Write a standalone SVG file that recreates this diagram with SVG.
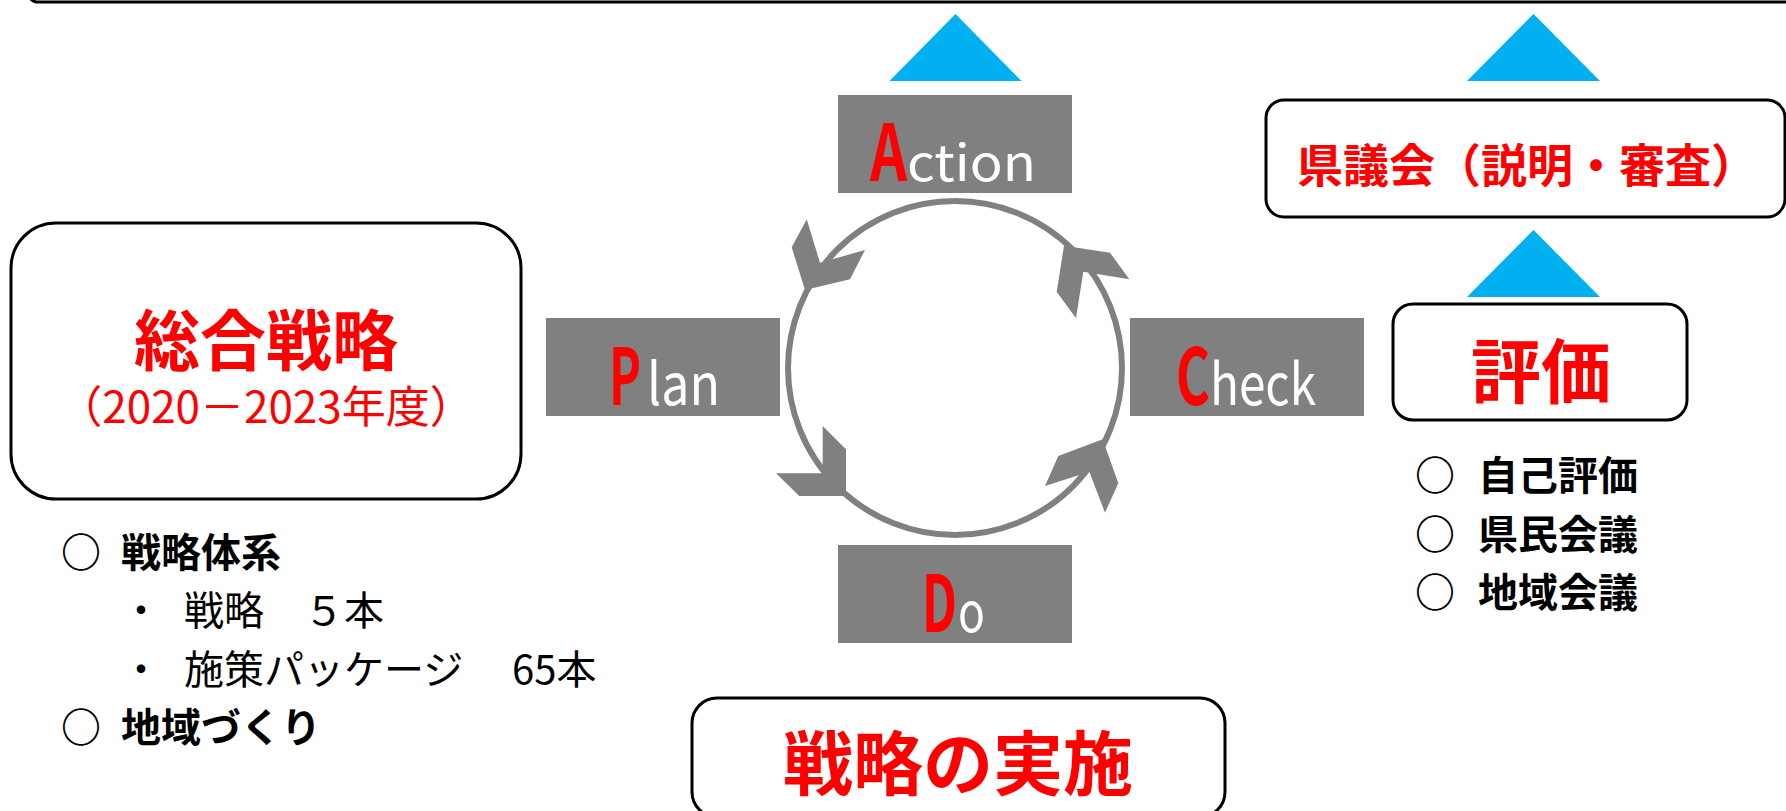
<svg xmlns="http://www.w3.org/2000/svg" width="1786" height="811" viewBox="0 0 1786 811">
<style>
  .frame{fill:#fff;stroke:#000;stroke-width:3}
  .gbox{fill:#808080}
  .tri{fill:#00B0F0}
  .ah{fill:#808080}
  .ring{fill:none;stroke:#808080;stroke-width:6}
  text{font-family:"Noto Sans CJK JP","Noto Sans",sans-serif}
  .cap{fill:#FF0000;font-weight:bold;font-size:78px}
  .low{fill:#FFFFFF;font-weight:normal}
  .red{fill:#FF0000;font-weight:bold}
  .redn{fill:#FF0000;font-weight:normal}
  .blk{fill:#000;font-size:40px}
  .bb{font-weight:bold}
</style>
<rect width="1786" height="811" fill="#fff"/>

<g id="top-frame">
  <rect class="frame" x="28" y="-60" width="1800" height="62" rx="10"/>
</g>

<g id="connectors">
  <polygon class="tri" points="955.5,14 889.5,81 1021.5,81"/>
  <polygon class="tri" points="1533.5,14 1467,81 1600,81"/>
  <polygon class="tri" points="1533.5,230 1467,297 1600,297"/>
  <circle class="ring" cx="955" cy="368" r="167"/>
  <polygon class="ah" points="806.7,219.3 820,262.7 865,250 850,279.3 805,290 791.7,247.3"/>
  <polygon class="ah" points="822.7,426 846,449.3 846,496 799.3,496 776,473.3 822.7,473.3"/>
  <polygon class="ah" points="1102.7,439.3 1118.3,483.3 1105,512.7 1089.3,471.7 1045,486 1058.3,456"/>
  <polygon class="ah" points="1064,245.7 1110,252.7 1129.3,279.3 1083.3,271.7 1076,318.3 1056.7,291.7"/>
</g>

<g id="action">
  <rect class="gbox" x="838" y="95" width="234" height="98"/>
  <text y="181"><tspan class="cap" x="870" textLength="37" lengthAdjust="spacingAndGlyphs">A</tspan><tspan class="low" x="907" font-size="50" textLength="129" lengthAdjust="spacingAndGlyphs">ction</tspan></text>
</g>

<g id="plan">
  <rect class="gbox" x="546" y="318" width="234" height="98"/>
  <text y="405"><tspan class="cap" x="609" textLength="32" lengthAdjust="spacingAndGlyphs">P</tspan><tspan class="low" x="647" font-size="58" textLength="73" lengthAdjust="spacingAndGlyphs">lan</tspan></text>
</g>

<g id="check">
  <rect class="gbox" x="1130" y="318" width="234" height="98"/>
  <text y="405"><tspan class="cap" x="1176" textLength="34" lengthAdjust="spacingAndGlyphs">C</tspan><tspan class="low" x="1210" font-size="57" textLength="106" lengthAdjust="spacingAndGlyphs">heck</tspan></text>
</g>

<g id="do">
  <rect class="gbox" x="838" y="545" width="234" height="98"/>
  <text y="632"><tspan class="cap" x="922" textLength="35" lengthAdjust="spacingAndGlyphs">D</tspan><tspan class="low" x="958" font-size="55" textLength="27" lengthAdjust="spacingAndGlyphs">o</tspan></text>
</g>

<g id="strategy">
  <rect class="frame" x="11" y="223" width="510" height="276" rx="45"/>
  <text class="red" x="266" y="365" font-size="66" text-anchor="middle">総合戦略</text>
  <text class="redn" x="266" y="423" font-size="44" text-anchor="middle">（2020－2023年度）</text>
</g>

<g id="strategy-list">
  <text class="blk bb" y="567"><tspan x="61">○</tspan><tspan x="121">戦略体系</tspan></text>
  <text class="blk" y="625"><tspan x="121">・</tspan><tspan x="184">戦略　５本</tspan></text>
  <text class="blk" y="684"><tspan x="121">・</tspan><tspan x="184">施策パッケージ</tspan><tspan x="512">65本</tspan></text>
  <text class="blk bb" y="742"><tspan x="61">○</tspan><tspan x="121">地域づくり</tspan></text>
</g>

<g id="implementation">
  <rect class="frame" x="692" y="698" width="533" height="119" rx="25"/>
  <text class="red" x="958" y="790" font-size="70" text-anchor="middle">戦略の実施</text>
</g>

<g id="council">
  <rect class="frame" x="1266" y="100" width="519" height="117" rx="18"/>
  <text class="red" x="1297" y="182" font-size="46">県議会（説明・審査）</text>
</g>

<g id="evaluation">
  <rect class="frame" x="1393" y="304" width="294" height="116" rx="20"/>
  <text class="red" x="1541" y="398" font-size="70" text-anchor="middle">評価</text>
</g>

<g id="evaluation-list">
  <text class="blk bb" y="490"><tspan x="1415">○</tspan><tspan x="1478">自己評価</tspan></text>
  <text class="blk bb" y="549"><tspan x="1415">○</tspan><tspan x="1478">県民会議</tspan></text>
  <text class="blk bb" y="607"><tspan x="1415">○</tspan><tspan x="1478">地域会議</tspan></text>
</g>
</svg>
